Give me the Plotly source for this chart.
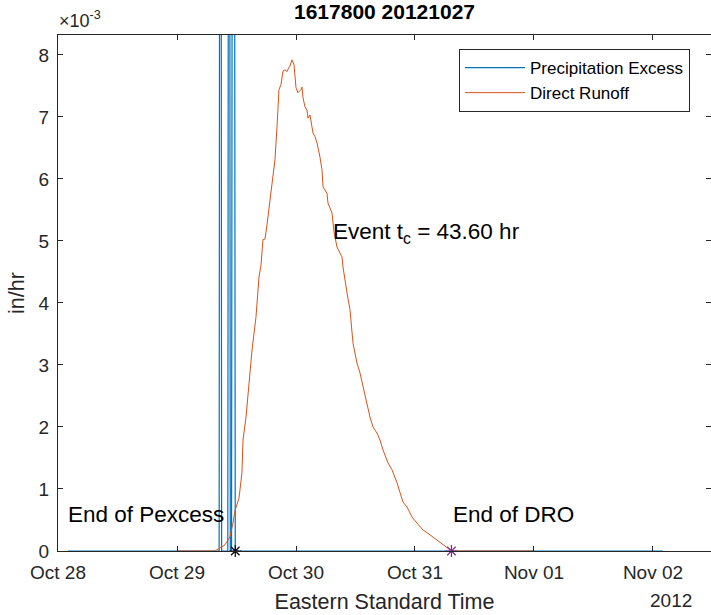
import pandas as pd
import plotly.graph_objects as go

# ---- data ----
start = pd.Timestamp("2012-10-28 00:00")

# Precipitation excess (in/hr), hours since Oct 28 00:00
pe_hours = [2.0, 32.5, 32.75, 33.0, 34.25, 34.5, 34.75, 35.0, 35.25, 35.5, 35.75, 122.0]
pe_values = [0, 0, 0.030, 0, 0, 0.025, 0, 0, 0.020, 0.020, 0, 0]

# Direct runoff (in/hr), hours since Oct 28 00:00
dro_hours = [24.0, 31.66, 33.68, 34.69, 35.29, 35.70, 36.5, 37.1, 37.31, 37.92, 39.13, 39.93,
             40.54, 40.94, 41.34, 41.75, 42.15, 42.76, 43.16, 43.76, 44.17, 44.57, 44.97,
             45.38, 45.78, 46.18, 46.39, 46.79, 47.19, 47.39, 47.60, 48.00, 48.40, 49.01,
             49.21, 49.41, 49.82, 50.22, 50.42, 50.82, 51.03, 51.43, 51.83, 52.24, 52.84,
             53.24, 53.45, 54.25, 54.45, 55.26, 55.66, 56.27, 57.28, 57.48, 58.29, 58.89,
             59.50, 60.30, 60.91, 61.51, 62.32, 62.92, 63.53, 64.34, 64.94, 65.55, 66.55,
             67.36, 68.37, 68.97, 69.58, 70.39, 71.39, 72.40, 73.61, 75.03, 76.44, 77.65,
             79.06, 79.35, 96.0]
dro_values_milli = [0, 0, 0.10, 0.23, 0.45, 0.65, 0.85, 1.26, 1.79, 2.16, 3.24, 3.77,
                    4.42, 4.61, 5.02, 5.03, 5.26, 5.66, 5.98, 6.31, 6.84, 7.44, 7.52,
                    7.74, 7.76, 7.73, 7.77, 7.82, 7.92, 7.89, 7.84, 7.47, 7.39, 7.44,
                    7.48, 7.31, 7.16, 7.11, 6.98, 7.03, 6.92, 6.74, 6.68, 6.58, 6.35,
                    6.15, 5.87, 5.77, 5.61, 5.45, 5.15, 4.90, 4.74, 4.58, 4.16, 3.89,
                    3.35, 3.03, 2.87, 2.65, 2.39, 2.16, 2.00, 1.90, 1.79, 1.63, 1.42,
                    1.31, 1.10, 0.94, 0.79, 0.71, 0.55, 0.45, 0.34, 0.26, 0.18, 0.10,
                    0.02, 0, 0]
dro_values = [v * 1e-3 for v in dro_values_milli]

end_pexcess_hour = 35.75
tc_hours = 43.60
end_dro_hour = end_pexcess_hour + tc_hours

title_text = "1617800 20121027"
x_ticks = ["2012-10-28", "2012-10-29", "2012-10-30", "2012-10-31", "2012-11-01", "2012-11-02"]
y_tick_vals = [0, 1e-3, 2e-3, 3e-3, 4e-3, 5e-3, 6e-3, 7e-3, 8e-3]
y_tick_text = ["0", "1", "2", "3", "4", "5", "6", "7", "8"]

# ---- figure ----
def to_time(hours):
    return start + pd.to_timedelta(hours, unit="h")

FONT = "Liberation Sans, Arial, sans-serif"
AX = "#262626"

fig = go.Figure()
fig.add_trace(go.Scatter(x=to_time(pe_hours), y=pe_values, mode="lines",
                         line=dict(color="#0072BD", width=1.2),
                         name="Precipitation Excess"))
fig.add_trace(go.Scatter(x=to_time(dro_hours), y=dro_values, mode="lines",
                         line=dict(color="#D95319", width=1),
                         name="Direct Runoff"))
fig.add_trace(go.Scatter(x=[to_time(end_pexcess_hour)], y=[0], mode="markers",
                         marker=dict(symbol="asterisk-open", size=10, color="black",
                                     line=dict(color="black", width=1.2)),
                         showlegend=False, cliponaxis=False))
fig.add_trace(go.Scatter(x=[to_time(end_dro_hour)], y=[0], mode="markers",
                         marker=dict(symbol="asterisk-open", size=10, color="#7E2F8E",
                                     line=dict(color="#7E2F8E", width=1.2)),
                         showlegend=False, cliponaxis=False))

L, R, T, B = 58, 0, 35, 64
W, H = 711, 615
pw, ph = W - L - R, H - T - B

def px(x):
    return (x - L) / pw

def py(y):
    return (H - B - y) / ph

fig.update_layout(
    width=W, height=H,
    margin=dict(l=L, r=R, t=T, b=B, autoexpand=False),
    paper_bgcolor="white", plot_bgcolor="white",
    font=dict(family=FONT, color=AX, size=19),
    title=dict(text="<b>" + title_text + "</b>", x=0.5 * (L + W - R) / W, xanchor="center",
               y=1 - 12 / H, yanchor="middle", automargin=False,
               font=dict(size=21, color="black", family=FONT)),
    showlegend=True,
    legend=dict(x=px(690), y=py(49), xanchor="right", yanchor="top",
                bordercolor="#262626", borderwidth=1, bgcolor="white",
                font=dict(size=17, color="black", family=FONT),
                itemwidth=60, tracegroupgap=0),
    xaxis=dict(range=[start, to_time(131.7)], type="date", automargin=False,
               tickvals=x_ticks, tickformat="%b %d",
               ticks="inside", ticklen=5, tickcolor=AX, tickwidth=1,
               showline=True, linecolor=AX, linewidth=1, mirror="ticks",
               showgrid=False, zeroline=False, ticklabelstandoff=4,
               tickfont=dict(size=19, color=AX),
               title=dict(text="Eastern Standard Time", font=dict(size=21.5, color=AX),
                          standoff=12)),
    yaxis=dict(range=[0, 0.00832], tickvals=y_tick_vals, ticktext=y_tick_text,
               automargin=False, ticklabelstandoff=4,
               ticks="inside", ticklen=5, tickcolor=AX, tickwidth=1,
               showline=True, linecolor=AX, linewidth=1, mirror="ticks",
               showgrid=False, zeroline=False,
               tickfont=dict(size=19, color=AX),
               title=dict(text="in/hr", font=dict(size=21.5, color=AX), standoff=8)),
    annotations=[
        dict(text="×10<sup>-3</sup>", xref="paper", yref="paper", x=px(57), y=py(20),
             xanchor="left", yanchor="middle", showarrow=False,
             font=dict(size=18, color=AX)),
        dict(text="2012", xref="paper", yref="paper", x=px(671), y=py(600),
             xanchor="center", yanchor="middle", showarrow=False,
             font=dict(size=19, color=AX)),
        dict(text="End of Pexcess", xref="paper", yref="paper", x=px(66), y=py(514),
             xanchor="left", yanchor="middle", showarrow=False,
             font=dict(size=22.5, color="black")),
        dict(text="End of DRO", xref="paper", yref="paper", x=px(451), y=py(514),
             xanchor="left", yanchor="middle", showarrow=False,
             font=dict(size=22.5, color="black")),
        dict(text="Event t<sub>c</sub> = 43.60 hr", xref="paper", yref="paper",
             x=px(331), y=py(233), xanchor="left", yanchor="middle", showarrow=False,
             font=dict(size=22.5, color="black")),
    ],
)

fig.write_html("out.html",
               config={"displayModeBar": False},
               post_script="document.body.style.margin='0';"
                           "document.body.style.overflow='hidden';")
